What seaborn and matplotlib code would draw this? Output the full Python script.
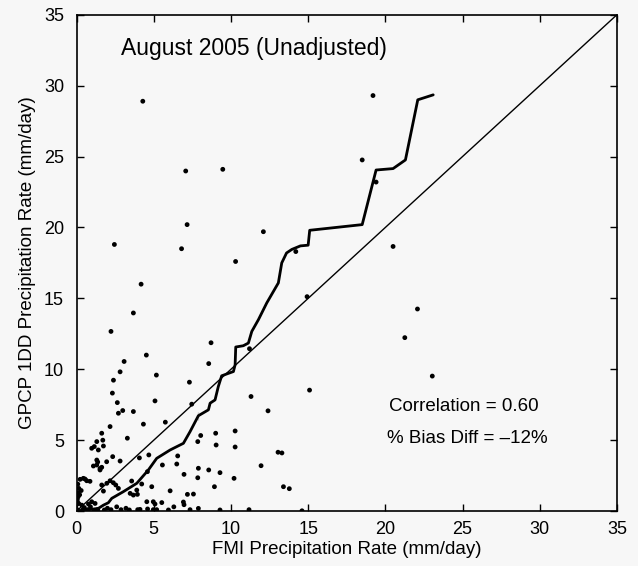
import matplotlib
matplotlib.use("Agg")
import matplotlib.pyplot as plt
import seaborn as sns
import pandas as pd

# ---- data ----
fmi_rate = [
    4.29, 19.2, 7.07, 9.47, 18.5, 19.4, 7.16, 12.1, 2.45, 6.8, 20.5, 14.2, 10.3, 4.18,
    3.68, 2.23, 8.71, 11.2, 4.52, 3.08, 8.56, 2.82, 5.17, 2.39, 7.31, 2.32, 11.3, 5.08,
    2.64, 7.46, 12.4, 2.99, 2.71, 3.68, 5.75, 4.33, 2.17, 1.63, 9.01, 10.27, 8.04, 3.29,
    1.31, 1.7, 7.85, 0.98, 1.15, 1.74, 1.41, 9.04, 10.27, 13.05, 13.3, 2.34, 4.07, 4.68,
    6.55, 1.31, 2.82, 1.95, 1.37, 1.52, 22.08, 21.26, 23.04, 15.09, 14.93,
    5.56, 6.49, 7.89, 8.56, 9.29, 11.95, 6.96, 7.85, 10.2, 4.22, 4.87, 8.93, 6.06, 7.18,
    7.57, 3.9, 3.94, 13.4, 13.78, 4.55, 4.97, 5.08, 5.52, 6.92, 6.96, 7.89,
    1.09, 1.31, 1.63, 1.52, 0.23, 0.44, 0.66, 1.96, 2.17, 2.38, 2.54, 1.63, 1.74,
    0.1, 0.1, 0.15, 0.2, 0.05, 0.12, 2.71, 0.98, 1.2, 0.77, 0.12, 0.34, 3.47, 3.68,
    4.59, 3.57, 0.55, 0.87, 0.3, 0.08,
    0.06, 0.39, 0.71, 1.15, 1.37, 1.8, 2.23, 2.88, 3.42, 3.96, 4.11, 4.97, 5.19, 5.95,
    7.35, 9.29, 11.17, 14.6, 0.5, 2.6, 3.2, 4.6, 6.3, 0.9, 2.0,
]
gpcp_rate = [
    28.9, 29.3, 23.98, 24.1, 24.76, 23.2, 20.2, 19.7, 18.8, 18.5, 18.66, 18.3, 17.6, 16.0,
    13.97, 12.67, 11.87, 11.45, 11.0, 10.55, 10.4, 9.82, 9.59, 9.23, 9.09, 8.32, 8.08, 7.77,
    7.65, 7.54, 7.07, 7.09, 6.9, 7.02, 6.27, 6.13, 5.96, 5.49, 5.49, 5.65, 5.33, 5.14,
    4.9, 5.0, 4.9, 4.43, 4.55, 4.59, 4.31, 4.66, 4.52, 4.15, 4.1, 3.84, 3.75, 3.96,
    3.89, 3.6, 3.53, 3.48, 3.46, 3.0, 14.25, 12.23, 9.52, 8.53, 15.12,
    3.25, 3.32, 3.02, 2.9, 2.71, 3.2, 2.59, 2.35, 2.31, 1.91, 1.72, 1.72, 1.43, 1.18,
    1.2, 1.48, 1.18, 1.72, 1.58, 0.66, 0.66, 0.5, 0.6, 0.64, 0.45, 0.19,
    3.18, 3.25, 3.09, 2.9, 2.24, 2.31, 2.14, 1.96, 2.14, 2.0, 1.84, 1.84, 1.41,
    1.0, 1.3, 1.6, 1.15, 0.8, 0.54, 1.6, 0.66, 0.54, 0.5, 0.54, 0.42, 1.25, 1.13,
    2.78, 2.12, 2.26, 2.1, 1.45, 1.9,
    0.08, 0.08, 0.1, 0.05, 0.1, 0.08, 0.1, 0.1, 0.08, 0.1, 0.12, 0.1, 0.1, 0.08,
    0.1, 0.08, 0.1, 0.02, 0.25, 0.3, 0.2, 0.15, 0.3, 0.3, 0.2,
]

# sorted-value (quantile) curve vertices
qq_fmi = [0.0, 1.41, 1.74, 2.06, 2.28, 3.03, 3.9, 4.65, 5.19, 6.06, 6.92, 7.35, 7.89,
          7.89, 8.54, 8.65, 8.97, 9.18, 9.4, 10.16, 10.27, 10.31, 10.8, 11.13, 11.35,
          11.78, 12.32, 13.07, 13.29, 13.6, 13.94, 14.5, 15.0, 15.1, 18.5, 19.4, 20.5,
          21.3, 22.1, 23.1]
qq_gpcp = [0.0, 0.19, 0.42, 0.59, 0.9, 1.37, 1.96, 2.9, 3.72, 4.31, 4.78, 5.6, 6.43,
           7.02, 7.14, 7.61, 7.84, 8.78, 9.54, 9.84, 10.32, 11.57, 11.66, 11.85, 12.67,
           13.5, 14.68, 16.09, 17.5, 18.2, 18.45, 18.7, 18.75, 19.8, 20.2, 24.05, 24.15,
           24.76, 29.0, 29.35]

one_to_one = [0, 35]
ticks = [0, 5, 10, 15, 20, 25, 30, 35]

title_text = "August 2005 (Unadjusted)"
corr_text = "Correlation = 0.60"
bias_text = "% Bias Diff = \u201312%"
xlabel = "FMI Precipitation Rate (mm/day)"
ylabel = "GPCP 1DD Precipitation Rate (mm/day)"

# ---- plotting ----
sns.set_theme(style="ticks")
plt.rcParams["font.family"] = ["Liberation Sans", "DejaVu Sans"]
plt.rcParams["text.color"] = "black"
plt.rcParams["axes.labelcolor"] = "black"
plt.rcParams["xtick.color"] = "black"
plt.rcParams["ytick.color"] = "black"

bg = "#f7f7f7"
fig = plt.figure(figsize=(6.38, 5.66), dpi=100, facecolor=bg)
ax = fig.add_axes([0.12, 0.097, 0.847, 0.877])
ax.set_facecolor(bg)

pts = pd.DataFrame({"fmi": fmi_rate, "gpcp": gpcp_rate})
qq = pd.DataFrame({"fmi": qq_fmi, "gpcp": qq_gpcp})
diag = pd.DataFrame({"fmi": one_to_one, "gpcp": one_to_one})

sns.lineplot(data=diag, x="fmi", y="gpcp", ax=ax, color="black", lw=1.0, sort=False)
sns.lineplot(data=qq, x="fmi", y="gpcp", ax=ax, color="black", lw=2.0, sort=False)
sns.scatterplot(data=pts, x="fmi", y="gpcp", ax=ax, color="black", s=12,
                edgecolor="none", linewidth=0)

ax.set_xlim(0, 35)
ax.set_ylim(0, 35)
ax.set_xticks(ticks)
ax.set_yticks(ticks)
ax.set_xticklabels([str(t) for t in ticks])
ax.set_yticklabels([str(t) for t in ticks])
ax.tick_params(direction="in", length=5, width=1.0, top=True, right=True,
               labelsize=13, colors="black")
ax.tick_params(axis="x", pad=7)
ax.tick_params(axis="y", pad=9)
for sp in ax.spines.values():
    sp.set_visible(True)
    sp.set_linewidth(1.2)
    sp.set_color("black")

ax.set_xlabel(xlabel, fontsize=13.5, labelpad=2, color="black")
ax.set_ylabel(ylabel, fontsize=13.5, labelpad=6, color="black")

ax.text(2.88, 32.15, title_text, fontsize=16.5, ha="left", va="baseline", color="black")
ax.text(25.1, 7.09, corr_text, fontsize=13.5, ha="center", va="baseline", color="black")
ax.text(25.3, 4.78, bias_text, fontsize=13.5, ha="center", va="baseline", color="black")

fig.savefig("out.png", dpi=100, facecolor=bg)
